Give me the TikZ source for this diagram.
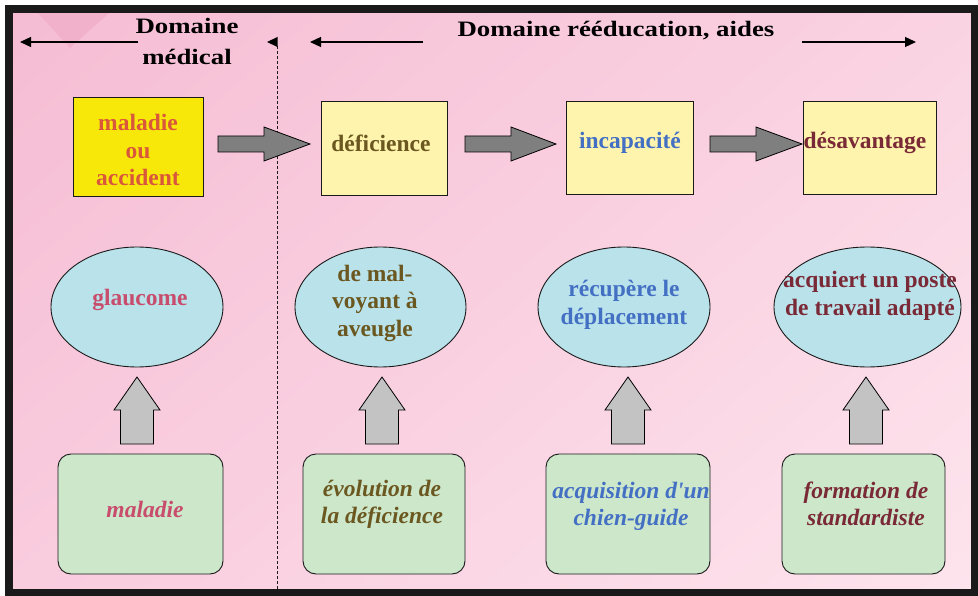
\documentclass[tikz,border=0pt]{standalone}
\usepackage{fontspec}
\setmainfont{Liberation Serif}[Ligatures=TeXOff]
\newfontfamily\hdrfont[FakeStretch=1.22]{Liberation Serif}
\usetikzlibrary{arrows.meta,shapes.geometric,shadings}
\definecolor{bgUL}{HTML}{F5BCD3}
\definecolor{bgUR}{HTML}{FAD3E2}
\definecolor{bgLL}{HTML}{F9CCDE}
\definecolor{bgLR}{HTML}{FDE4ED}
\definecolor{decopink}{HTML}{EFA3C0}
\definecolor{framec}{HTML}{1A1A1A}
\definecolor{yelA}{HTML}{F8E80A}
\definecolor{yelB}{HTML}{FFF4AE}
\definecolor{blueF}{HTML}{B9E2EA}
\definecolor{greenF}{HTML}{CDE7CB}
\definecolor{grayD}{HTML}{7F7F7F}
\definecolor{grayL}{HTML}{C3C3C3}
\definecolor{cRed}{HTML}{D9573B}
\definecolor{cOlive}{HTML}{6B5820}
\definecolor{cBlue}{HTML}{4470C4}
\definecolor{cMaroon}{HTML}{7A2A36}
\definecolor{cPink}{HTML}{C84C6C}
\newcommand{\hblock}[3]{\filldraw[blockH] (#1,136) -- (#2,136) -- (#2,127) -- (#3,144) -- (#2,161) -- (#2,152) -- (#1,152) -- cycle;}
\newcommand{\vblock}[1]{\filldraw[blockV] (#1-16.5,444) -- (#1-16.5,410) -- (#1-23,410) -- (#1,377) -- (#1+23,410) -- (#1+16.5,410) -- (#1+16.5,444) -- cycle;}
\begin{document}
\begin{tikzpicture}[x=1pt,y=-1pt,
  hdr/.style={font=\hdrfont\bfseries\fontsize{22}{31}\selectfont, align=center, inner sep=0pt, text=black},
  hdrarrow/.style={line width=1.2pt, -{Triangle[length=11pt,width=10pt]}},
  topbox/.style={draw=framec, line width=0.9pt, rectangle, inner sep=0pt},
  ell/.style={draw=framec, line width=0.9pt, ellipse, inner sep=0pt, minimum height=120pt, fill=blueF},
  botbox/.style={draw=framec, line width=0.9pt, rectangle, rounded corners=13pt, inner sep=0pt, minimum height=120pt, fill=greenF},
  txt/.style={font=\bfseries\fontsize{23.5}{27.5}\selectfont, align=center, inner sep=0pt},
  itxt/.style={font=\bfseries\itshape\fontsize{23.5}{26.5}\selectfont, align=center, inner sep=0pt},
  blockH/.style={fill=grayD, draw=black, line width=0.8pt},
  blockV/.style={fill=grayL, draw=black, line width=0.8pt},
  divider/.style={draw=framec, line width=0.9pt, dash pattern=on 3pt off 2pt}]
\useasboundingbox (0,0) rectangle (978,596);
\fill[white] (0,0) rectangle (978,596);
\shade[upper left=bgUL, upper right=bgUR, lower left=bgLL, lower right=bgLR] (9,9) rectangle (975,593);
\fill[decopink, opacity=0.45] (37,12) -- (110,12) -- (70,48) -- cycle;
\draw[framec, line width=7.5pt] (9,9) rectangle (975,593);

% headers
\node[hdr] (hmed) at (187,41) {Domaine\\médical};
\node[hdr] (hree) at (616,31) {Domaine rééducation, aides};
\coordinate (mlA) at (138,42); \coordinate (mlB) at (20,42);
\coordinate (rlA) at (423,42); \coordinate (rlB) at (310,42);
\coordinate (rrA) at (802,42); \coordinate (rrB) at (916,42);
\draw[hdrarrow] (mlA) -- (mlB);
\draw[hdrarrow] (rlA) -- (rlB);
\draw[hdrarrow] (rrA) -- (rrB);

% divider
\coordinate (dtop) at (277,46); \coordinate (dbot) at (277,591);
\draw[divider] (dtop) -- (dbot);
\fill[black] (277.5,37) -- (267,42) -- (277.5,47) -- cycle;

% top row
\node[topbox, fill=yelA, minimum width=130pt, minimum height=99pt] (acc) at (138,146.5) {};
\node[topbox, fill=yelB, minimum width=126pt, minimum height=94pt] (def) at (384,148) {};
\node[topbox, fill=yelB, minimum width=127pt, minimum height=93pt] (inc) at (629.5,147.5) {};
\node[topbox, fill=yelB, minimum width=133pt, minimum height=93pt] (des) at (869.5,147.5) {};
\node[txt, text=cRed] (acc-t) at (138,150) {maladie\\ou\\accident};
\node[txt, text=cOlive] (def-t) at (381,143) {déficience};
\node[txt, text=cBlue] (inc-t) at (630,143) {incapacité};
\node[txt, text=cMaroon] (des-t) at (865,143) {désavantage};

\hblock{218}{264}{310}
\hblock{465}{511}{556}
\hblock{710}{756}{802}

% ellipses
\node[ell, minimum width=172pt] (gla) at (137,307) {};
\node[ell, minimum width=171pt] (mav) at (380.5,307) {};
\node[ell, minimum width=172pt] (rec) at (624,307) {};
\node[ell, minimum width=187pt] (acq) at (867.5,307) {};
\node[txt, text=cPink] (gla-t) at (140,300) {glaucome};
\node[txt, text=cOlive] (mav-t) at (375,303) {de mal-\\voyant à\\aveugle};
\node[txt, text=cBlue] (rec-t) at (624,305) {récupère le\\déplacement};
\node[txt, text=cMaroon] (acq-t) at (870,296) {acquiert un poste\\de travail adapté};

\vblock{137}
\vblock{382}
\vblock{628}
\vblock{866}

% bottom boxes
\node[botbox, minimum width=165pt] (b1) at (140.5,514) {};
\node[botbox, minimum width=162pt] (b2) at (384,514) {};
\node[botbox, minimum width=164pt] (b3) at (628,514) {};
\node[botbox, minimum width=163pt] (b4) at (863.5,514) {};
\node[itxt, text=cPink] (b1-t) at (145,509) {maladie};
\node[itxt, text=cOlive] (b2-t) at (382,504.5) {évolution de\\la déficience};
\node[itxt, text=cBlue] (b3-t) at (631,506.5) {acquisition d'un\\chien-guide};
\node[itxt, text=cMaroon] (b4-t) at (866,504) {formation de\\standardiste};
\end{tikzpicture}
\end{document}
